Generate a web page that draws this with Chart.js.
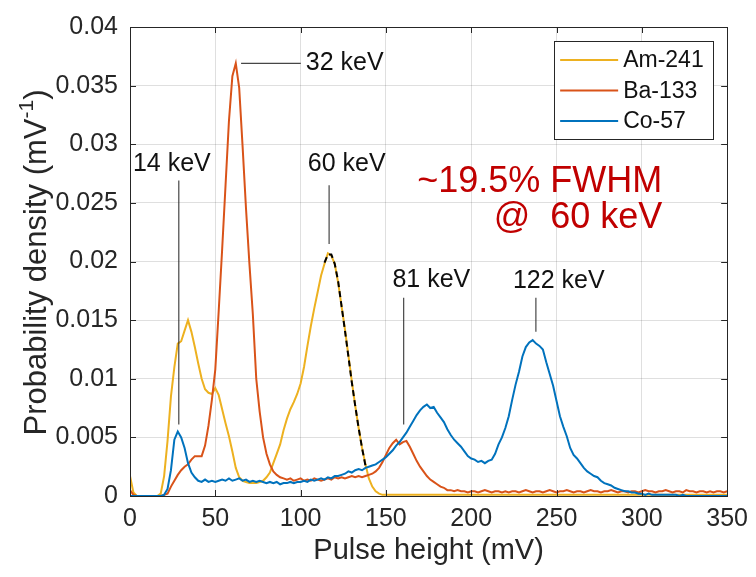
<!DOCTYPE html>
<html>
<head>
<meta charset="utf-8">
<script src="https://cdn.jsdelivr.net/npm/chart.js@4.4.0/dist/chart.umd.min.js"></script>
<style>
  html, body { margin: 0; padding: 0; background: #fff; }
  canvas { display: block; }
</style>
</head>
<body>
<canvas id="spectrumChart" width="756" height="577"></canvas>
<script>
// Pulse height bins (2 mV wide, 0 to 350 mV)
const binWidth = 2;
const pulseHeight = Array.from({ length: 176 }, (_, i) => i * binWidth);

// Probability density per source (mV^-1), one value per bin
const am241 = [
  0.0017, 0.0003, 0, 0, 0, 0, 0, 0, 0, 0.0002,
  0.0017, 0.0047, 0.0085, 0.0110, 0.0130, 0.0132, 0.0141, 0.0150, 0.0140, 0.0127,
  0.0113, 0.0100, 0.0091, 0.0088, 0.0087, 0.0092, 0.0086, 0.0074, 0.0062, 0.0051,
  0.0038, 0.0024, 0.0016, 0.0013, 0.0012, 0.0011, 0.0011, 0.0011, 0.0012, 0.0013,
  0.0016, 0.0020, 0.0028, 0.0036, 0.0044, 0.0056, 0.0066, 0.0074, 0.0080, 0.0087,
  0.0096, 0.0110, 0.0128, 0.0145, 0.0160, 0.0174, 0.0188, 0.0198, 0.0207, 0.0205,
  0.0198, 0.0182, 0.0162, 0.0142, 0.0120, 0.0098, 0.0077, 0.0058, 0.0041, 0.0027,
  0.0015, 0.0008, 0.0004, 0.0002, 0.0001, 0.0001, 0.0001, 0.0001, 0.0001, 0.0001,
  0.0001, 0.0001, 0.0001, 0.0001, 0.0001, 0.0001, 0.0001, 0.0001, 0.0001, 0.0001,
  0.0001, 0.0001, 0.0001, 0.0001, 0.0001, 0.0001, 0.0001, 0.0001, 0.0001, 0.0001,
  0.0001, 0.0001, 0.0001, 0.0001, 0.0001, 0.0001, 0.0001, 0.0001, 0.0001, 0.0001,
  0.0001, 0.0001, 0.0001, 0.0001, 0.0001, 0.0001, 0.0001, 0.0001, 0.0001, 0.0001,
  0.0001, 0.0001, 0.0001, 0.0001, 0.0001, 0.0001, 0.0001, 0.0001, 0.0001, 0.0001,
  0.0001, 0.0001, 0.0001, 0.0001, 0.0001, 0.0001, 0.0001, 0.0001, 0.0001, 0.0001,
  0.0001, 0.0001, 0.0001, 0.0001, 0.0001, 0.0001, 0.0001, 0.0001, 0.0001, 0.0001,
  0.0001, 0.0001, 0.0001, 0.0001, 0.0001, 0.0001, 0.0001, 0.0001, 0.0001, 0.0001,
  0.0001, 0.0001, 0.0001, 0.0001, 0.0001, 0.0001, 0.0001, 0.0001, 0.0001, 0.0001,
  0.0001, 0.0001, 0.0001, 0.0001, 0.0001, 0.0001
];

const ba133 = [
  0.0005, 0.0001, 0, 0, 0, 0, 0, 0, 0, 0,
  0.0001, 0.0002, 0.0008, 0.0013, 0.0018, 0.0022, 0.0025, 0.0027, 0.0031, 0.0034,
  0.0034, 0.0034, 0.0043, 0.0060, 0.0082, 0.0108, 0.0158, 0.0210, 0.0265, 0.0320,
  0.0358, 0.0369, 0.0348, 0.0298, 0.0245, 0.0198, 0.0155, 0.0100, 0.0072, 0.0050,
  0.0036, 0.0027, 0.0021, 0.0018, 0.0016, 0.0015, 0.0014, 0.0015, 0.0013, 0.0014,
  0.0015, 0.0013, 0.0014, 0.0013, 0.0015, 0.0014, 0.0013, 0.0014, 0.0015, 0.0014,
  0.0016, 0.0015, 0.0016, 0.0015, 0.0016, 0.0017, 0.0016, 0.0017, 0.0016, 0.0017,
  0.0018, 0.0019, 0.0021, 0.0024, 0.0029, 0.0035, 0.0041, 0.0045, 0.0048, 0.0044,
  0.0046, 0.0047, 0.0042, 0.0036, 0.0030, 0.0025, 0.0021, 0.0017, 0.0014, 0.0012,
  0.0010, 0.0008, 0.0007, 0.0005, 0.0005, 0.0004, 0.0005, 0.0004, 0.0004, 0.0003,
  0.0004, 0.0004, 0.0003, 0.0004, 0.0005, 0.0004, 0.0003, 0.0004, 0.0004, 0.0003,
  0.0004, 0.0003, 0.0004, 0.0004, 0.0003, 0.0004, 0.0005, 0.0004, 0.0003, 0.0004,
  0.0004, 0.0003, 0.0004, 0.0005, 0.0004, 0.0003, 0.0004, 0.0004, 0.0005, 0.0004,
  0.0003, 0.0004, 0.0004, 0.0003, 0.0004, 0.0005, 0.0004, 0.0004, 0.0003, 0.0004,
  0.0004, 0.0005, 0.0004, 0.0003, 0.0004, 0.0004, 0.0003, 0.0004, 0.0004, 0.0003,
  0.0004, 0.0005, 0.0004, 0.0004, 0.0003, 0.0004, 0.0004, 0.0005, 0.0004, 0.0003,
  0.0004, 0.0004, 0.0003, 0.0005, 0.0004, 0.0004, 0.0003, 0.0004, 0.0004, 0.0003,
  0.0004, 0.0003, 0.0004, 0.0004, 0.0003, 0.0004
];

const co57 = [
  0, 0, 0, 0, 0, 0, 0, 0, 0, 0,
  0.0001, 0.0006, 0.0022, 0.0048, 0.0055, 0.0050, 0.0041, 0.0028, 0.0020, 0.0016,
  0.0013, 0.0012, 0.0014, 0.0012, 0.0013, 0.0012, 0.0013, 0.0014, 0.0013, 0.0015,
  0.0013, 0.0014, 0.0015, 0.0013, 0.0014, 0.0012, 0.0013, 0.0012, 0.0013, 0.0012,
  0.0011, 0.0012, 0.0011, 0.0012, 0.0010, 0.0011, 0.0011, 0.0012, 0.0011, 0.0012,
  0.0012, 0.0013, 0.0012, 0.0014, 0.0013, 0.0014, 0.0015, 0.0014, 0.0016, 0.0015,
  0.0017, 0.0017, 0.0018, 0.0019, 0.0021, 0.0020, 0.0022, 0.0023, 0.0022, 0.0024,
  0.0025, 0.0026, 0.0027, 0.0029, 0.0031, 0.0033, 0.0036, 0.0039, 0.0043, 0.0046,
  0.0050, 0.0054, 0.0059, 0.0064, 0.0069, 0.0073, 0.0076, 0.0078, 0.0075, 0.0076,
  0.0071, 0.0067, 0.0063, 0.0057, 0.0052, 0.0048, 0.0045, 0.0042, 0.0038, 0.0034,
  0.0032, 0.0031, 0.0029, 0.0030, 0.0028, 0.0030, 0.0031, 0.0036, 0.0044, 0.0050,
  0.0058, 0.0068, 0.0082, 0.0095, 0.0106, 0.0119, 0.0127, 0.0131, 0.0133, 0.0130,
  0.0128, 0.0125, 0.0114, 0.0104, 0.0094, 0.0081, 0.0068, 0.0059, 0.0051, 0.0041,
  0.0035, 0.0032, 0.0028, 0.0024, 0.0021, 0.0019, 0.0017, 0.0016, 0.0013, 0.0011,
  0.0010, 0.0009, 0.0007, 0.0006, 0.0005, 0.0004, 0.0004, 0.0003, 0.0003, 0.0002,
  0.0002, 0.0001, 0.0002, 0.0001, 0.0001, 0.0001, 0.0001, 0.0001, 0.0001, 0.0001,
  0.0001, 0, 0.0001, 0, 0, 0, 0, 0, 0, 0,
  0, 0, 0, 0, 0, 0
];

// Gaussian fit over the 60 keV peak (dashed)
const fitHeight = [114, 116, 118, 120, 122, 124, 126, 128, 130, 132, 134, 136, 138];
const fitDensity = [0.0199, 0.0206, 0.0206, 0.0198, 0.0183, 0.0162, 0.0141, 0.0119, 0.0097, 0.0077, 0.0058, 0.0041, 0.0026];

// Peak labels and leader lines, in data units
const peakLabels = ['14 keV', '32 keV', '60 keV', '81 keV', '122 keV'];
const labelX = [24.5, 103, 127, 176.6, 251.3];
const labelY = [0.0283, 0.0369, 0.0283, 0.0184, 0.0183];
const labelAlign = ['center', 'left', 'center', 'center', 'center'];
const leaderStart = [[28.6, 0.0061], [65.1, 0.0369], [116.7, 0.0215], [160.4, 0.0061], [237.9, 0.0140]];
const leaderEnd = [[28.6, 0.0269], [100.1, 0.0369], [116.7, 0.0265], [160.4, 0.0169], [237.9, 0.0169]];

// Resolution note
const noteLines = ['~19.5% FWHM', '@  60 keV'];
const noteRight = 312;
const noteY = [0.0268, 0.0237];

const axisColor = '#262626';
const fontFamily = '"Liberation Sans", Arial, Helvetica, sans-serif';

function toPoints(xs, ys) {
    return xs.map((v, i) => ({ x: v, y: ys[i] }));
}

// Draws inward ticks, the box, labels, note and legend on top of the lines
const matlabLook = {
    id: 'matlabLook',
    afterDatasetsDraw(chart) {
        const { ctx, chartArea: a, scales: { x, y } } = chart;
        ctx.save();
        ctx.strokeStyle = axisColor;
        ctx.lineWidth = 1;
        ctx.beginPath();
        x.ticks.forEach(t => {
            const px = Math.round(x.getPixelForValue(t.value)) + 0.5;
            ctx.moveTo(px, a.bottom);
            ctx.lineTo(px, a.bottom - 6);
            ctx.moveTo(px, a.top);
            ctx.lineTo(px, a.top + 6);
        });
        y.ticks.forEach(t => {
            const py = Math.round(y.getPixelForValue(t.value)) + 0.5;
            ctx.moveTo(a.left, py);
            ctx.lineTo(a.left + 6, py);
            ctx.moveTo(a.right, py);
            ctx.lineTo(a.right - 6, py);
        });
        ctx.stroke();
        ctx.strokeRect(Math.round(a.left) + 0.5, Math.round(a.top) + 0.5,
            Math.round(a.right - a.left), Math.round(a.bottom - a.top));

        // leader lines
        ctx.strokeStyle = 'rgba(38,38,38,0.85)';
        ctx.lineWidth = 1.2;
        ctx.beginPath();
        leaderStart.forEach((s, i) => {
            const e = leaderEnd[i];
            ctx.moveTo(x.getPixelForValue(s[0]), y.getPixelForValue(s[1]));
            ctx.lineTo(x.getPixelForValue(e[0]), y.getPixelForValue(e[1]));
        });
        ctx.stroke();

        // peak labels
        ctx.fillStyle = '#111';
        ctx.font = '25px ' + fontFamily;
        ctx.textBaseline = 'middle';
        peakLabels.forEach((txt, i) => {
            ctx.textAlign = labelAlign[i];
            ctx.fillText(txt, x.getPixelForValue(labelX[i]), y.getPixelForValue(labelY[i]));
        });

        // FWHM note
        ctx.fillStyle = '#C00000';
        ctx.font = '36px ' + fontFamily;
        ctx.textAlign = 'right';
        noteLines.forEach((txt, i) => {
            ctx.fillText(txt, x.getPixelForValue(noteRight), y.getPixelForValue(noteY[i]));
        });

        // legend box in the upper right corner
        const boxR = a.right - 14, boxT = a.top + 14;
        const boxL = boxR - 159, boxB = boxT + 98;
        ctx.fillStyle = '#fff';
        ctx.fillRect(boxL, boxT, boxR - boxL, boxB - boxT);
        ctx.strokeStyle = axisColor;
        ctx.lineWidth = 1;
        ctx.strokeRect(Math.round(boxL) + 0.5, Math.round(boxT) + 0.5, boxR - boxL, boxB - boxT);
        ctx.font = '23px ' + fontFamily;
        ctx.textAlign = 'left';
        chart.data.datasets.slice(0, 3).forEach((ds, i) => {
            const rowY = boxT + 19 + i * 30.5;
            ctx.strokeStyle = ds.borderColor;
            ctx.lineWidth = 2;
            ctx.beginPath();
            ctx.moveTo(boxL + 6, rowY);
            ctx.lineTo(boxL + 64, rowY);
            ctx.stroke();
            ctx.fillStyle = '#111';
            ctx.fillText(ds.label, boxL + 69, rowY + 1);
        });

        // y axis title with superscript
        ctx.fillStyle = axisColor;
        ctx.translate(37, (a.top + a.bottom) / 2 + 1);
        ctx.rotate(-Math.PI / 2);
        const big = '31px ' + fontFamily, small = '21px ' + fontFamily;
        const part1 = 'Probability density (mV', sup = '-1', part3 = ')';
        ctx.font = big;
        const w1 = ctx.measureText(part1).width, w3 = ctx.measureText(part3).width;
        ctx.font = small;
        const w2 = ctx.measureText(sup).width;
        const start = -(w1 + w2 + w3) / 2;
        ctx.textAlign = 'left';
        ctx.textBaseline = 'middle';
        ctx.font = big;
        ctx.fillText(part1, start, 0);
        ctx.font = small;
        ctx.fillText(sup, start + w1, -10);
        ctx.font = big;
        ctx.fillText(part3, start + w1 + w2, 0);
        ctx.restore();
    }
};

const lineStyle = { borderWidth: 2, pointRadius: 0, tension: 0, fill: false };

const ctx = document.getElementById('spectrumChart').getContext('2d');
const spectrumChart = new Chart(ctx, {
    type: 'line',
    data: {
        datasets: [
            { label: 'Am-241', data: toPoints(pulseHeight, am241), borderColor: '#EDB120', order: 3, ...lineStyle },
            { label: 'Ba-133', data: toPoints(pulseHeight, ba133), borderColor: '#D95319', order: 2, ...lineStyle },
            { label: 'Co-57', data: toPoints(pulseHeight, co57), borderColor: '#0072BD', order: 1, ...lineStyle },
            { label: 'Fit', data: toPoints(fitHeight, fitDensity), borderColor: '#000', borderDash: [6, 4], order: 0, ...lineStyle }
        ]
    },
    options: {
        responsive: false,
        animation: false,
        devicePixelRatio: 1,
        layout: { padding: { top: 17, right: 25, left: 0, bottom: 0 } },
        plugins: {
            legend: { display: false },
            tooltip: { enabled: false }
        },
        scales: {
            x: {
                type: 'linear',
                min: 0,
                max: 350,
                afterFit: scale => { scale.height = 81; },
                ticks: {
                    stepSize: 50,
                    maxRotation: 0,
                    autoSkip: false,
                    padding: 8,
                    color: axisColor,
                    font: { family: fontFamily, size: 25 }
                },
                grid: { color: 'rgba(38,38,38,0.15)', drawTicks: false },
                border: { color: axisColor },
                title: {
                    display: true,
                    text: 'Pulse height (mV)',
                    color: axisColor,
                    font: { family: fontFamily, size: 29 },
                    padding: { top: 0, bottom: 9 }
                }
            },
            y: {
                type: 'linear',
                min: 0,
                max: 0.04,
                afterFit: scale => { scale.width = 130; },
                ticks: {
                    stepSize: 0.005,
                    padding: 12,
                    color: axisColor,
                    font: { family: fontFamily, size: 25 },
                    callback: v => parseFloat(v.toFixed(3)).toString()
                },
                grid: { color: 'rgba(38,38,38,0.15)', drawTicks: false },
                border: { color: axisColor }
            }
        }
    },
    plugins: [matlabLook]
});
</script>
</body>
</html>
